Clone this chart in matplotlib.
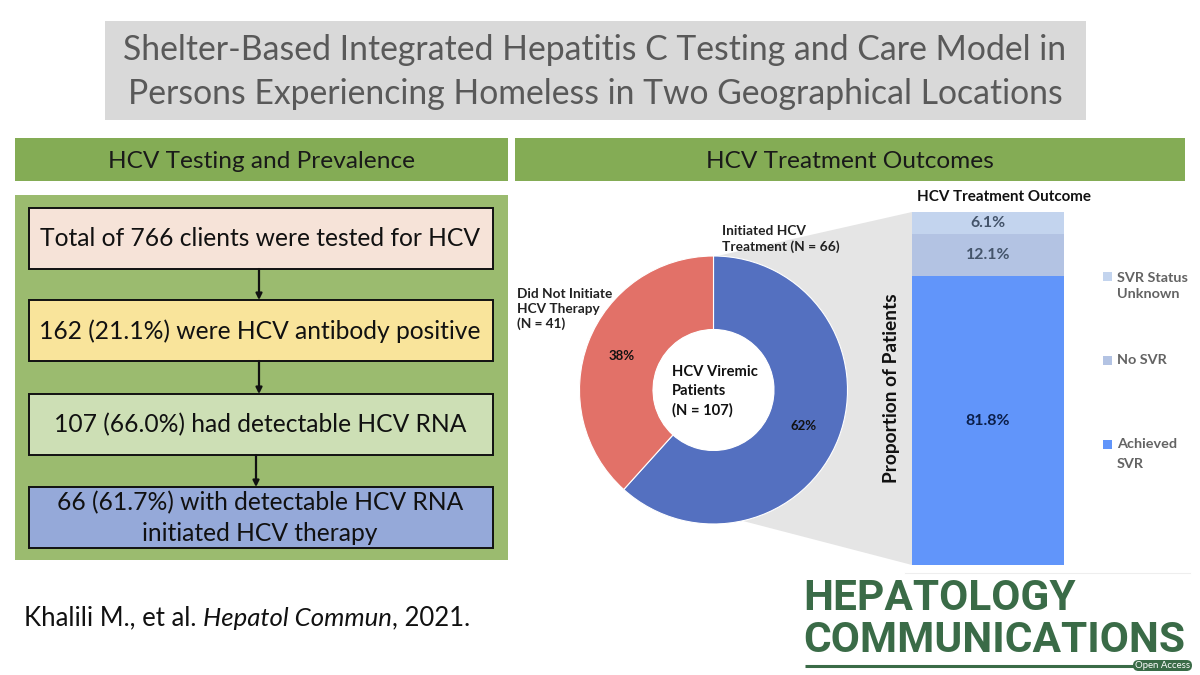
import matplotlib
matplotlib.use("Agg")
import matplotlib.pyplot as plt
from matplotlib.patches import Rectangle, Polygon, FancyBboxPatch, Circle

plt.rcParams['font.family'] = ['Lato', 'DejaVu Sans']

W, H = 1200, 675

title_lines = ["Shelter-Based Integrated Hepatitis C Testing and Care Model in",
               "Persons Experiencing Homeless in Two Geographical Locations"]
flow_texts = ["Total of 766 clients were tested for HCV",
              "162 (21.1%) were HCV antibody positive",
              "107 (66.0%) had detectable HCV RNA",
              "66 (61.7%) with detectable HCV RNA\ninitiated HCV therapy"]
flow_colors = ["#F6E3D8", "#F9E49B", "#CDDFB5", "#95A9D9"]

donut_labels = ["Initiated HCV\nTreatment (N = 66)", "Did Not Initiate\nHCV Therapy\n(N = 41)"]
donut_values = [66, 41]
donut_colors = ["#5470C0", "#E27168"]

bar_labels = ["Achieved\nSVR", "No SVR", "SVR Status\nUnknown"]
bar_values = [81.8, 12.1, 6.1]
bar_colors = ["#6195FA", "#B3C3E3", "#C3D4EE"]

fig = plt.figure(figsize=(12, 6.75), dpi=100, facecolor="white")


def px_axes(left, top, right, bottom, z):
    return fig.add_axes([left / W, 1 - bottom / H, (right - left) / W, (bottom - top) / H], zorder=z)


bg = px_axes(0, 0, W, H, 0)
bg.set_xlim(0, W); bg.set_ylim(H, 0); bg.axis("off")
top = px_axes(0, 0, W, H, 5)
top.set_xlim(0, W); top.set_ylim(H, 0); top.axis("off"); top.patch.set_alpha(0)


def rect(x0, y0, x1, y1, fc, ec="none", lw=0):
    bg.add_patch(Rectangle((x0, y0), x1 - x0, y1 - y0, fc=fc, ec=ec, lw=lw))


# Title
rect(105, 21, 1086, 120, "#D9D9D9")
top.text(595, 50.5, title_lines[0], ha="center", va="center", fontsize=24.3, color="#595959")
top.text(595, 94.5, title_lines[1], ha="center", va="center", fontsize=24.3, color="#595959")

# Section headers
rect(15, 138, 508, 181, "#84AC55")
rect(515, 138, 1185, 181, "#84AC55")
top.text(262, 162, "HCV Testing and Prevalence", ha="center", va="center", fontsize=17.6, color="#1a1a1a")
top.text(850, 162, "HCV Treatment Outcomes", ha="center", va="center", fontsize=17.6, color="#1a1a1a")

# Flow panel
rect(15, 195, 508, 560, "#9BBB6F")
box_tops = [208, 300, 394, 487]
for yt, c, t in zip(box_tops, flow_colors, flow_texts):
    rect(28.5, yt, 492.5, yt + 61, c, ec="#111111", lw=1.4)
    top.text(260, yt + 31, t, ha="center", va="center", fontsize=17.7, color="#111111", linespacing=1.42)
for x, y0, y1 in [(259, 269, 300), (259, 361, 394), (256, 455, 487)]:
    bg.annotate("", xy=(x, y1), xytext=(x, y0),
                arrowprops=dict(arrowstyle="-|>", color="#111111", lw=1.6, shrinkA=0, shrinkB=0, mutation_scale=9))

# Connector wedge behind donut and bar
bg.add_patch(Polygon([(713, 257), (912, 212), (912, 565), (743, 521)], fc="#E5E5E5", ec="none"))

# Donut
cx, cy, R = 713.5, 390, 134
ax_p = px_axes(cx - R, cy - R, cx + R, cy + R, 2)
ax_p.pie(donut_values, colors=donut_colors, startangle=90, counterclock=False, radius=1,
         wedgeprops=dict(width=1 - 60.5 / 134, edgecolor="white", linewidth=0.8))
ax_p.add_patch(Circle((0, 0), 60.5 / 134, fc="white", ec="none", zorder=3))
ax_p.set_xlim(-1, 1); ax_p.set_ylim(-1, 1)
ax_p.patch.set_alpha(0)

total = sum(donut_values)
top.text(804, 426, f"{donut_values[0] / total * 100:.0f}%", ha="center", va="center", fontsize=9.5, fontweight="bold", color="#111111")
top.text(622, 356, f"{donut_values[1] / total * 100:.0f}%", ha="center", va="center", fontsize=9.5, fontweight="bold", color="#111111")
top.text(722, 239, donut_labels[0], ha="left", va="center", fontsize=9.9, fontweight="bold", color="#222222", linespacing=1.25)
top.text(517, 309, donut_labels[1], ha="left", va="center", fontsize=9.8, fontweight="bold", color="#222222", linespacing=1.25)
top.text(672, 391, "HCV Viremic\nPatients\n(N = 107)", ha="left", va="center", fontsize=10.6, fontweight="bold", color="#111111", linespacing=1.45)

# Stacked bar
ax_b = px_axes(912, 212, 1064, 565, 2)
bottom = 0
label_colors = ["#0B1F4A", "#44546A", "#44546A"]
for v, c, lc in zip(bar_values, bar_colors, label_colors):
    ax_b.bar(0, v, width=1, bottom=bottom, color=c)
    ax_b.text(0, bottom + v / 2, f"{v}%", ha="center", va="center", fontsize=11.4, fontweight="bold", color=lc)
    bottom += v
ax_b.set_xlim(-0.5, 0.5); ax_b.set_ylim(0, sum(bar_values)); ax_b.axis("off")

top.text(1004, 197, "HCV Treatment Outcome", ha="center", va="center", fontsize=10.9, fontweight="bold", color="#111111")
top.text(892, 388, "Proportion of Patients", ha="center", va="center", rotation=90, fontsize=13.8, fontweight="bold", color="#111111")

# Legend
for lab, col, ysq, ytxt, ls in zip(bar_labels, bar_colors, [444, 360, 276], [454, 360, 286], [1.7, 1.4, 1.5]):
    rect(1103, ysq - 4.5, 1112, ysq + 4.5, col)
    top.text(1117, ytxt, lab, ha="left", va="center", fontsize=10.4, fontweight="bold", color="#636363", linespacing=ls)

bg.plot([905, 1190], [573, 573], color="#EEEEEE", lw=0.8)

# Citation, with the journal name set in italics
fig.canvas.draw()
rend = fig.canvas.get_renderer()
xpos = 24
for part, style in [("Khalili M., et al. ", "normal"), ("Hepatol Commun", "italic"), (", 2021.", "normal")]:
    t = top.text(xpos, 618, part, ha="left", va="center", fontsize=18.5, style=style, color="#111111")
    xpos += t.get_window_extent(rend).width

# Journal wordmark
green = "#3A6B47"
top.text(803, 599, "HEPATOLOGY", ha="left", va="center", fontsize=30.5, fontweight="bold", family="Roboto", color=green)
top.text(803, 640, "COMMUNICATIONS", ha="left", va="center", fontsize=30.5, fontweight="bold", family="Roboto", color=green)
bg.plot([805, 1134], [665.7, 665.7], color=green, lw=2.2, solid_capstyle="butt")
bg.add_patch(FancyBboxPatch((1133, 660), 59, 11, boxstyle="round,pad=0,rounding_size=5.5", fc=green, ec="none"))
top.text(1162.5, 665.5, "Open Access", ha="center", va="center", fontsize=6.9, color="white")

fig.savefig("out.png", dpi=100, facecolor="white")
